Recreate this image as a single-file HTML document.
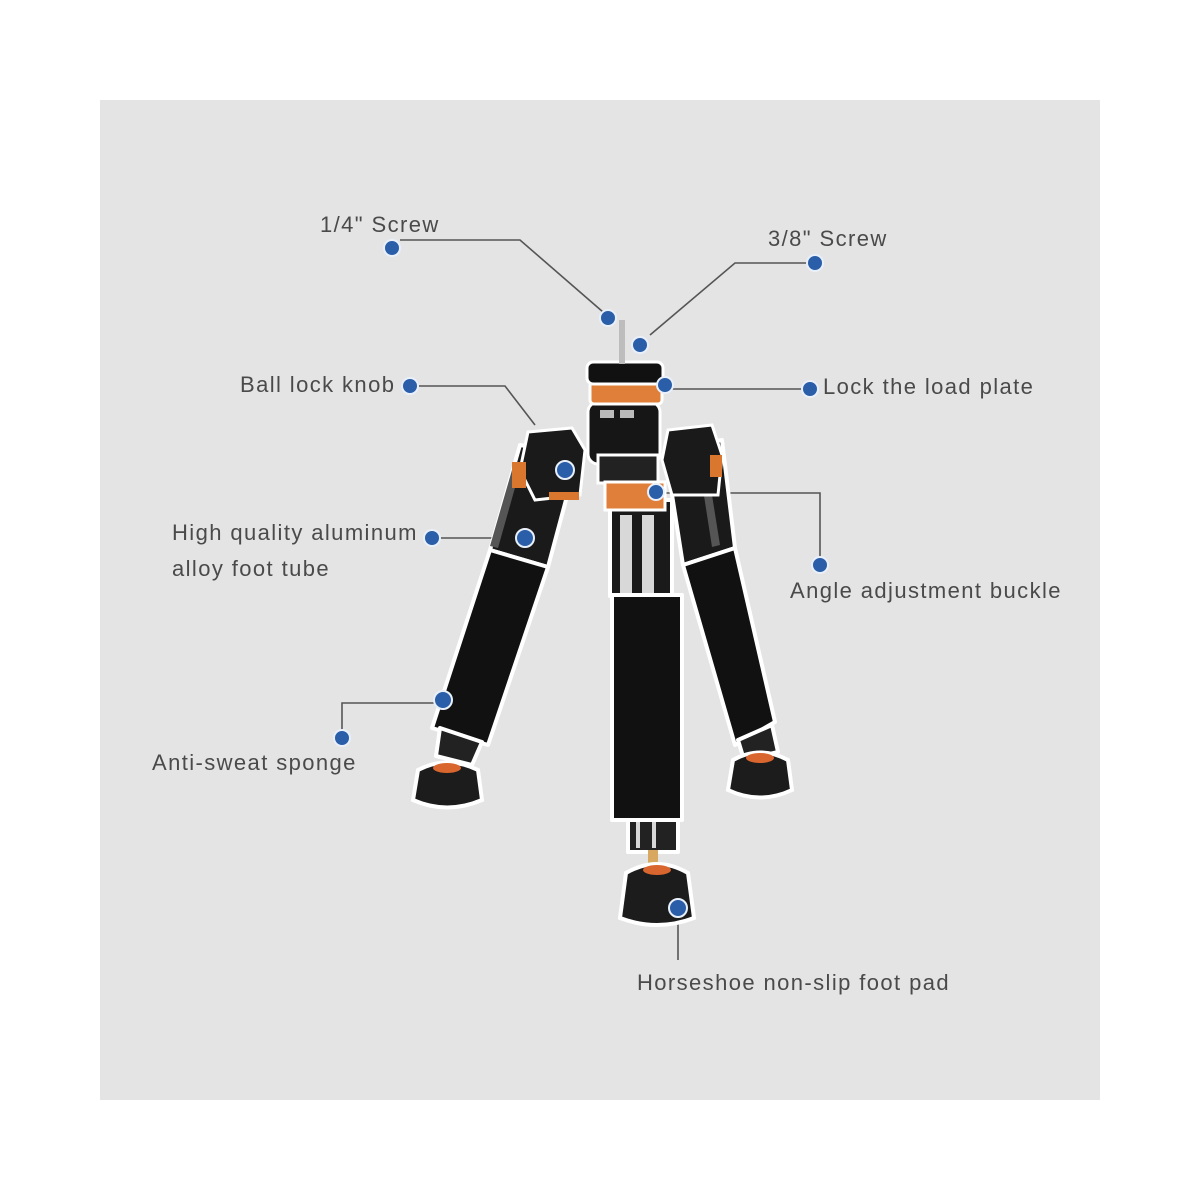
<!DOCTYPE html>
<html><head><meta charset="utf-8"><style>
html,body{margin:0;padding:0;background:#fff;width:1200px;height:1200px;overflow:hidden}
svg{display:block}
text{font-family:"Liberation Sans",sans-serif;font-size:22px;letter-spacing:1.4px;fill:#4a4a4a}
</style></head><body>
<svg width="1200" height="1200" viewBox="0 0 1200 1200">
<rect x="0" y="0" width="1200" height="1200" fill="#fff"/>
<rect x="100" y="100" width="1000" height="1000" fill="#e4e4e4"/>
<g stroke="#555" stroke-width="1.6" fill="none">
<polyline points="400,240 520,240 603,312"/>
<polyline points="810,263 735,263 650,335"/>
<polyline points="410,386 505,386 535,425"/>
<polyline points="810,389 665,389"/>
<polyline points="432,538 510,538"/>
<polyline points="820,565 820,493 660,493"/>
<polyline points="342,738 342,703 440,703"/>
<polyline points="678,908 678,960"/>
</g>
<g stroke="#fff" stroke-width="4" stroke-linejoin="round">
<polygon points="520,445 578,455 548,567 490,550" fill="#1a1a1a"/>
<polygon points="490,550 548,567 488,745 432,728" fill="#111"/>
<polygon points="440,728 482,742 472,765 436,756" fill="#222"/>
<polygon points="665,450 722,440 735,548 683,565" fill="#1a1a1a"/>
<polygon points="683,565 735,548 775,722 735,745" fill="#111"/>
<polygon points="738,740 772,725 778,752 744,760" fill="#222"/>
<rect x="610" y="500" width="62" height="96" fill="#1a1a1a"/>
<rect x="612" y="595" width="70" height="225" fill="#111"/>
<rect x="628" y="820" width="50" height="32" fill="#222"/>
</g>
<g fill="#d8d8d8">
<rect x="620" y="515" width="12" height="78"/><rect x="642" y="515" width="12" height="78"/>
<rect x="636" y="822" width="4" height="26"/><rect x="652" y="822" width="4" height="26"/>
</g>
<g fill="#555"><polygon points="512,470 520,470 498,548 490,546"/><polygon points="700,470 708,470 720,545 712,547"/></g>
<rect x="648" y="850" width="10" height="20" fill="#d9a860"/>
<g stroke="#fff" stroke-width="4">
<path d="M418,770 Q447,755 478,770 L482,800 Q447,815 413,800 Z" fill="#1c1c1c"/>
<path d="M733,760 Q760,745 788,760 L792,790 Q760,805 728,790 Z" fill="#1c1c1c"/>
<path d="M626,873 Q657,855 688,873 L694,918 Q657,932 620,918 Z" fill="#1c1c1c"/>
</g>
<ellipse cx="447" cy="768" rx="14" ry="5" fill="#d9662e"/>
<ellipse cx="760" cy="758" rx="14" ry="5" fill="#d9662e"/>
<ellipse cx="657" cy="870" rx="14" ry="5" fill="#d9662e"/>
<g stroke="#fff" stroke-width="3">
<rect x="588" y="402" width="72" height="62" rx="10" fill="#161616"/>
<rect x="590" y="382" width="72" height="22" rx="4" fill="#e07f3a"/>
<rect x="587" y="362" width="76" height="22" rx="6" fill="#111"/>
</g>
<rect x="600" y="410" width="14" height="8" fill="#bbb"/><rect x="620" y="410" width="14" height="8" fill="#bbb"/>
<rect x="619" y="320" width="6" height="44" fill="#bdbdbd"/>
<g stroke="#fff" stroke-width="3">
<path d="M528,432 L572,428 L585,450 L580,495 L535,500 L520,470 Z" fill="#1a1a1a"/>
<path d="M668,430 L712,425 L722,455 L718,495 L672,495 L662,460 Z" fill="#1a1a1a"/>
<rect x="598" y="455" width="60" height="28" fill="#222"/>
<rect x="605" y="482" width="60" height="28" fill="#e07f3a"/>
</g>
<rect x="512" y="462" width="14" height="26" fill="#d9772f"/>
<rect x="710" y="455" width="12" height="22" fill="#d9772f"/>
<rect x="549" y="492" width="30" height="8" fill="#d9772f"/>
<g fill="#2a5ea8" stroke="#e9f0fb" stroke-width="2">
<circle cx="392" cy="248" r="8"/><circle cx="608" cy="318" r="8"/>
<circle cx="815" cy="263" r="8"/><circle cx="640" cy="345" r="8"/>
<circle cx="410" cy="386" r="8"/><circle cx="565" cy="470" r="9"/>
<circle cx="810" cy="389" r="8"/><circle cx="665" cy="385" r="8"/>
<circle cx="432" cy="538" r="8"/><circle cx="525" cy="538" r="9"/>
<circle cx="820" cy="565" r="8"/><circle cx="656" cy="492" r="8"/>
<circle cx="342" cy="738" r="8"/><circle cx="443" cy="700" r="9"/>
<circle cx="678" cy="908" r="9"/>
</g>
<text x="320" y="232">1/4" Screw</text>
<text x="768" y="246">3/8" Screw</text>
<text x="240" y="392">Ball lock knob</text>
<text x="823" y="394">Lock the load plate</text>
<text x="172" y="540">High quality aluminum</text>
<text x="172" y="576">alloy foot tube</text>
<text x="790" y="598">Angle adjustment buckle</text>
<text x="152" y="770">Anti-sweat sponge</text>
<text x="637" y="990">Horseshoe non-slip foot pad</text>
</svg>
</body></html>
